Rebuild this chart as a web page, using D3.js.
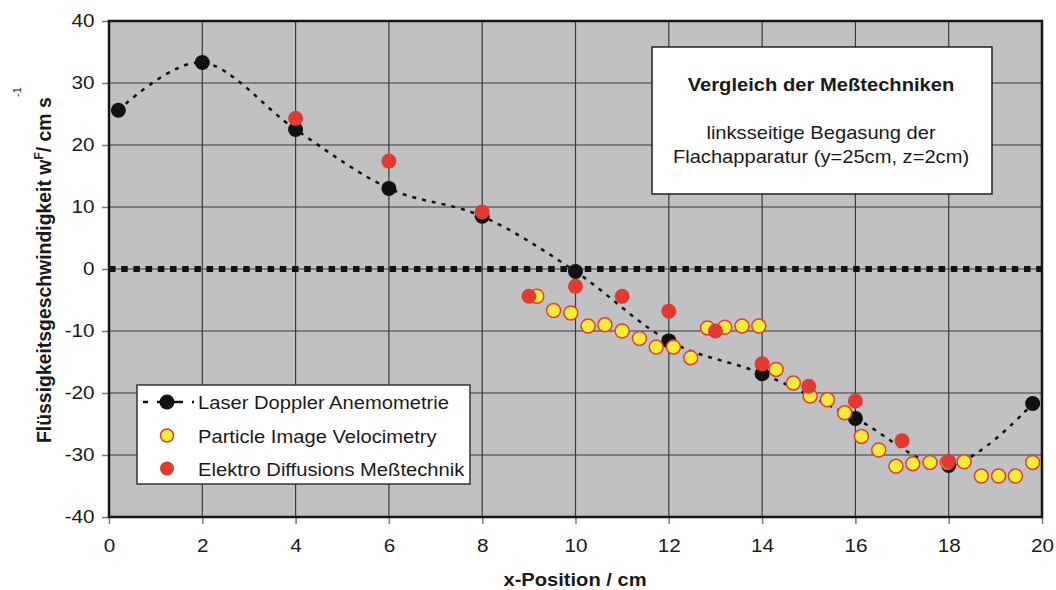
<!DOCTYPE html>
<html>
<head>
<meta charset="utf-8">
<script src="https://cdn.jsdelivr.net/npm/d3@7"></script>
<style>
  body { margin: 0; background: #fff; }
  svg { display: block; font-family: "Liberation Sans", Arial, sans-serif; }
</style>
</head>
<body>
<svg id="chart" width="1056" height="590"></svg>
<script>
var w = 1056;
var h = 590;

// tick labels
var xTickValues = [0, 2, 4, 6, 8, 10, 12, 14, 16, 18, 20];
var yTickValues = [-40, -30, -20, -10, 0, 10, 20, 30, 40];

// Laser Doppler Anemometrie
var ldaX = [0.2, 2, 4, 6, 8, 10, 12, 14, 16, 18, 19.8];
var ldaY = [25.6, 33.3, 22.5, 13.0, 8.5, -0.4, -11.6, -16.9, -24.1, -31.7, -21.7];

// Particle Image Velocimetry
var pivX = [9.17, 9.53, 9.9, 10.27, 10.63, 11.0, 11.37, 11.73, 12.1, 12.47, 12.83, 13.2, 13.57, 13.93, 14.3,
  14.67, 15.03, 15.4, 15.77, 16.13, 16.5, 16.87, 17.23, 17.6, 17.97, 18.33, 18.7, 19.07, 19.43, 19.8];
var pivY = [-4.4, -6.7, -7.1, -9.2, -9.0, -10.0, -11.2, -12.6, -12.6, -14.3, -9.5, -9.4, -9.2, -9.2, -16.2,
  -18.4, -20.5, -21.1, -23.2, -27.0, -29.2, -31.8, -31.4, -31.2, -31.2, -31.1, -33.4, -33.4, -33.4, -31.2];

// Elektro Diffusions Meßtechnik
var edmX = [4, 6, 8, 9, 10, 11, 12, 13, 14, 15, 16, 17, 18];
var edmY = [24.3, 17.4, 9.2, -4.4, -2.8, -4.4, -6.8, -10.0, -15.3, -18.9, -21.3, -27.7, -31.0];

var legendNames = ["Laser Doppler Anemometrie", "Particle Image Velocimetry", "Elektro Diffusions Meßtechnik"];

var pLeft = 109, pRight = 1042, pTop = 21, pBottom = 517;
var canvas = d3.select("#chart");

var xScale = d3.scaleLinear().domain([0, 20]).range([pLeft, pRight]);
var yScale = d3.scaleLinear().domain([-40, 40]).range([pBottom, pTop]);

var lda = ldaX.map((x, i) => ({ x: x, y: ldaY[i] }));
var piv = pivX.map((x, i) => ({ x: x, y: pivY[i] }));
var edm = edmX.map((x, i) => ({ x: x, y: edmY[i] }));

// text helper: horizontally stretched text like the original
function label(g, x, y, str, size, sx, opts) {
  opts = opts || {};
  return g.append("text")
    .attr("transform", "translate(" + x + "," + y + ") scale(" + sx + ",1)")
    .attr("text-anchor", opts.anchor || "start")
    .style("font-size", size + "px")
    .style("font-weight", opts.bold ? "bold" : "normal")
    .attr("fill", "#1a1a1a")
    .text(str);
}

// plot background
canvas.append("rect")
  .attr("x", pLeft).attr("y", pTop)
  .attr("width", pRight - pLeft).attr("height", pBottom - pTop)
  .attr("fill", "#c1c1c3");

// grid
canvas.append("g").selectAll("line")
  .data(xTickValues.slice(1, -1))
  .join("line")
  .attr("x1", d => xScale(d)).attr("x2", d => xScale(d))
  .attr("y1", pTop).attr("y2", pBottom)
  .attr("stroke", "#3a3a3a").attr("stroke-width", 1.2);

canvas.append("g").selectAll("line")
  .data(yTickValues.slice(1, -1))
  .join("line")
  .attr("x1", pLeft).attr("x2", pRight)
  .attr("y1", d => yScale(d)).attr("y2", d => yScale(d))
  .attr("stroke", "#3a3a3a").attr("stroke-width", 1.2);

// zero line of squares
canvas.append("line")
  .attr("x1", pLeft).attr("x2", pRight)
  .attr("y1", yScale(0)).attr("y2", yScale(0))
  .attr("stroke", "#111").attr("stroke-width", 6)
  .attr("stroke-dasharray", "6.5,5.7");

// axes
var xAxis = d3.axisBottom(xScale).tickValues(xTickValues).tickSize(7).tickPadding(15)
  .tickFormat(d => String(d));
var yAxis = d3.axisLeft(yScale).tickValues(yTickValues).tickSize(7).tickPadding(5.5)
  .tickFormat(d => String(d));

var gx = canvas.append("g")
  .attr("transform", "translate(0," + pBottom + ")")
  .call(xAxis);
var gy = canvas.append("g")
  .attr("transform", "translate(" + pLeft + ",0)")
  .call(yAxis);

[gx, gy].forEach(function (g) {
  g.select(".domain").remove();
  g.selectAll(".tick line").attr("stroke", "#7a7a7a").attr("stroke-width", 1.5);
  g.selectAll(".tick text")
    .attr("fill", "#1a1a1a")
    .style("font-size", "18px")
    .attr("transform", "scale(1.15,1)");
});

// frame
canvas.append("rect")
  .attr("x", pLeft).attr("y", pTop)
  .attr("width", pRight - pLeft).attr("height", pBottom - pTop)
  .attr("fill", "none")
  .attr("stroke", "#151515").attr("stroke-width", 2.5);

// LDA smoothed dashed line
var line = d3.line()
  .x(d => xScale(d.x))
  .y(d => yScale(d.y))
  .curve(d3.curveCardinal.tension(0));

canvas.append("path")
  .datum(lda)
  .attr("d", line)
  .attr("fill", "none")
  .attr("stroke", "#111")
  .attr("stroke-width", 2.5)
  .attr("stroke-dasharray", "4,6");

canvas.append("g").selectAll("circle")
  .data(lda)
  .join("circle")
  .attr("cx", d => xScale(d.x)).attr("cy", d => yScale(d.y))
  .attr("r", 7.5).attr("fill", "#111");

canvas.append("g").selectAll("circle")
  .data(piv)
  .join("circle")
  .attr("cx", d => xScale(d.x)).attr("cy", d => yScale(d.y))
  .attr("r", 7).attr("fill", "#f4ec3a")
  .attr("stroke", "#e2402f").attr("stroke-width", 1.5);

canvas.append("g").selectAll("circle")
  .data(edm)
  .join("circle")
  .attr("cx", d => xScale(d.x)).attr("cy", d => yScale(d.y))
  .attr("r", 7.5).attr("fill", "#e03a31");

// legend
var legend = canvas.append("g");
legend.append("rect")
  .attr("x", 137).attr("y", 385).attr("width", 333).attr("height", 99)
  .attr("fill", "#fff").attr("stroke", "#333").attr("stroke-width", 1.5);

var rowY = [402, 435.5, 468.5];
legend.append("line")
  .attr("x1", 143).attr("x2", 195)
  .attr("y1", rowY[0]).attr("y2", rowY[0])
  .attr("stroke", "#111").attr("stroke-width", 2.5)
  .attr("stroke-dasharray", "5,9,26,9,2");
legend.append("circle").attr("cx", 167).attr("cy", rowY[0]).attr("r", 7.5).attr("fill", "#111");
legend.append("circle").attr("cx", 167).attr("cy", rowY[1]).attr("r", 6.5)
  .attr("fill", "#f4ec3a").attr("stroke", "#e2402f").attr("stroke-width", 1.5);
legend.append("circle").attr("cx", 167).attr("cy", rowY[2]).attr("r", 7).attr("fill", "#e03a31");

legendNames.forEach(function (name, i) {
  label(legend, 198, rowY[i] + 7, name, 18.5, 1.09);
});

// annotation box
var note = canvas.append("g");
note.append("rect")
  .attr("x", 652).attr("y", 47).attr("width", 340).attr("height", 147)
  .attr("fill", "#fff").attr("stroke", "#222").attr("stroke-width", 1.5);
label(note, 821, 91, "Vergleich der Meßtechniken", 18, 1.12, { anchor: "middle", bold: true });
label(note, 821, 139, "linksseitige Begasung der", 17.5, 1.15, { anchor: "middle" });
label(note, 821, 163, "Flachapparatur (y=25cm, z=2cm)", 17.5, 1.15, { anchor: "middle" });

// axis titles
label(canvas, 575, 586, "x-Position / cm", 18.3, 1.1, { anchor: "middle", bold: true });

var yt = canvas.append("text")
  .attr("transform", "translate(51,443) rotate(-90)")
  .style("font-size", "19.4px")
  .style("font-weight", "bold")
  .attr("fill", "#1a1a1a");
yt.append("tspan").text("Flüssigkeitsgeschwindigkeit w");
yt.append("tspan").attr("dy", -8).style("font-size", "12px").text("F");
yt.append("tspan").attr("dy", 8).text("/ cm s");

canvas.append("text")
  .attr("transform", "translate(21,97) rotate(-90)")
  .style("font-size", "11px")
  .attr("fill", "#1a1a1a")
  .text("-1");
</script>
</body>
</html>
